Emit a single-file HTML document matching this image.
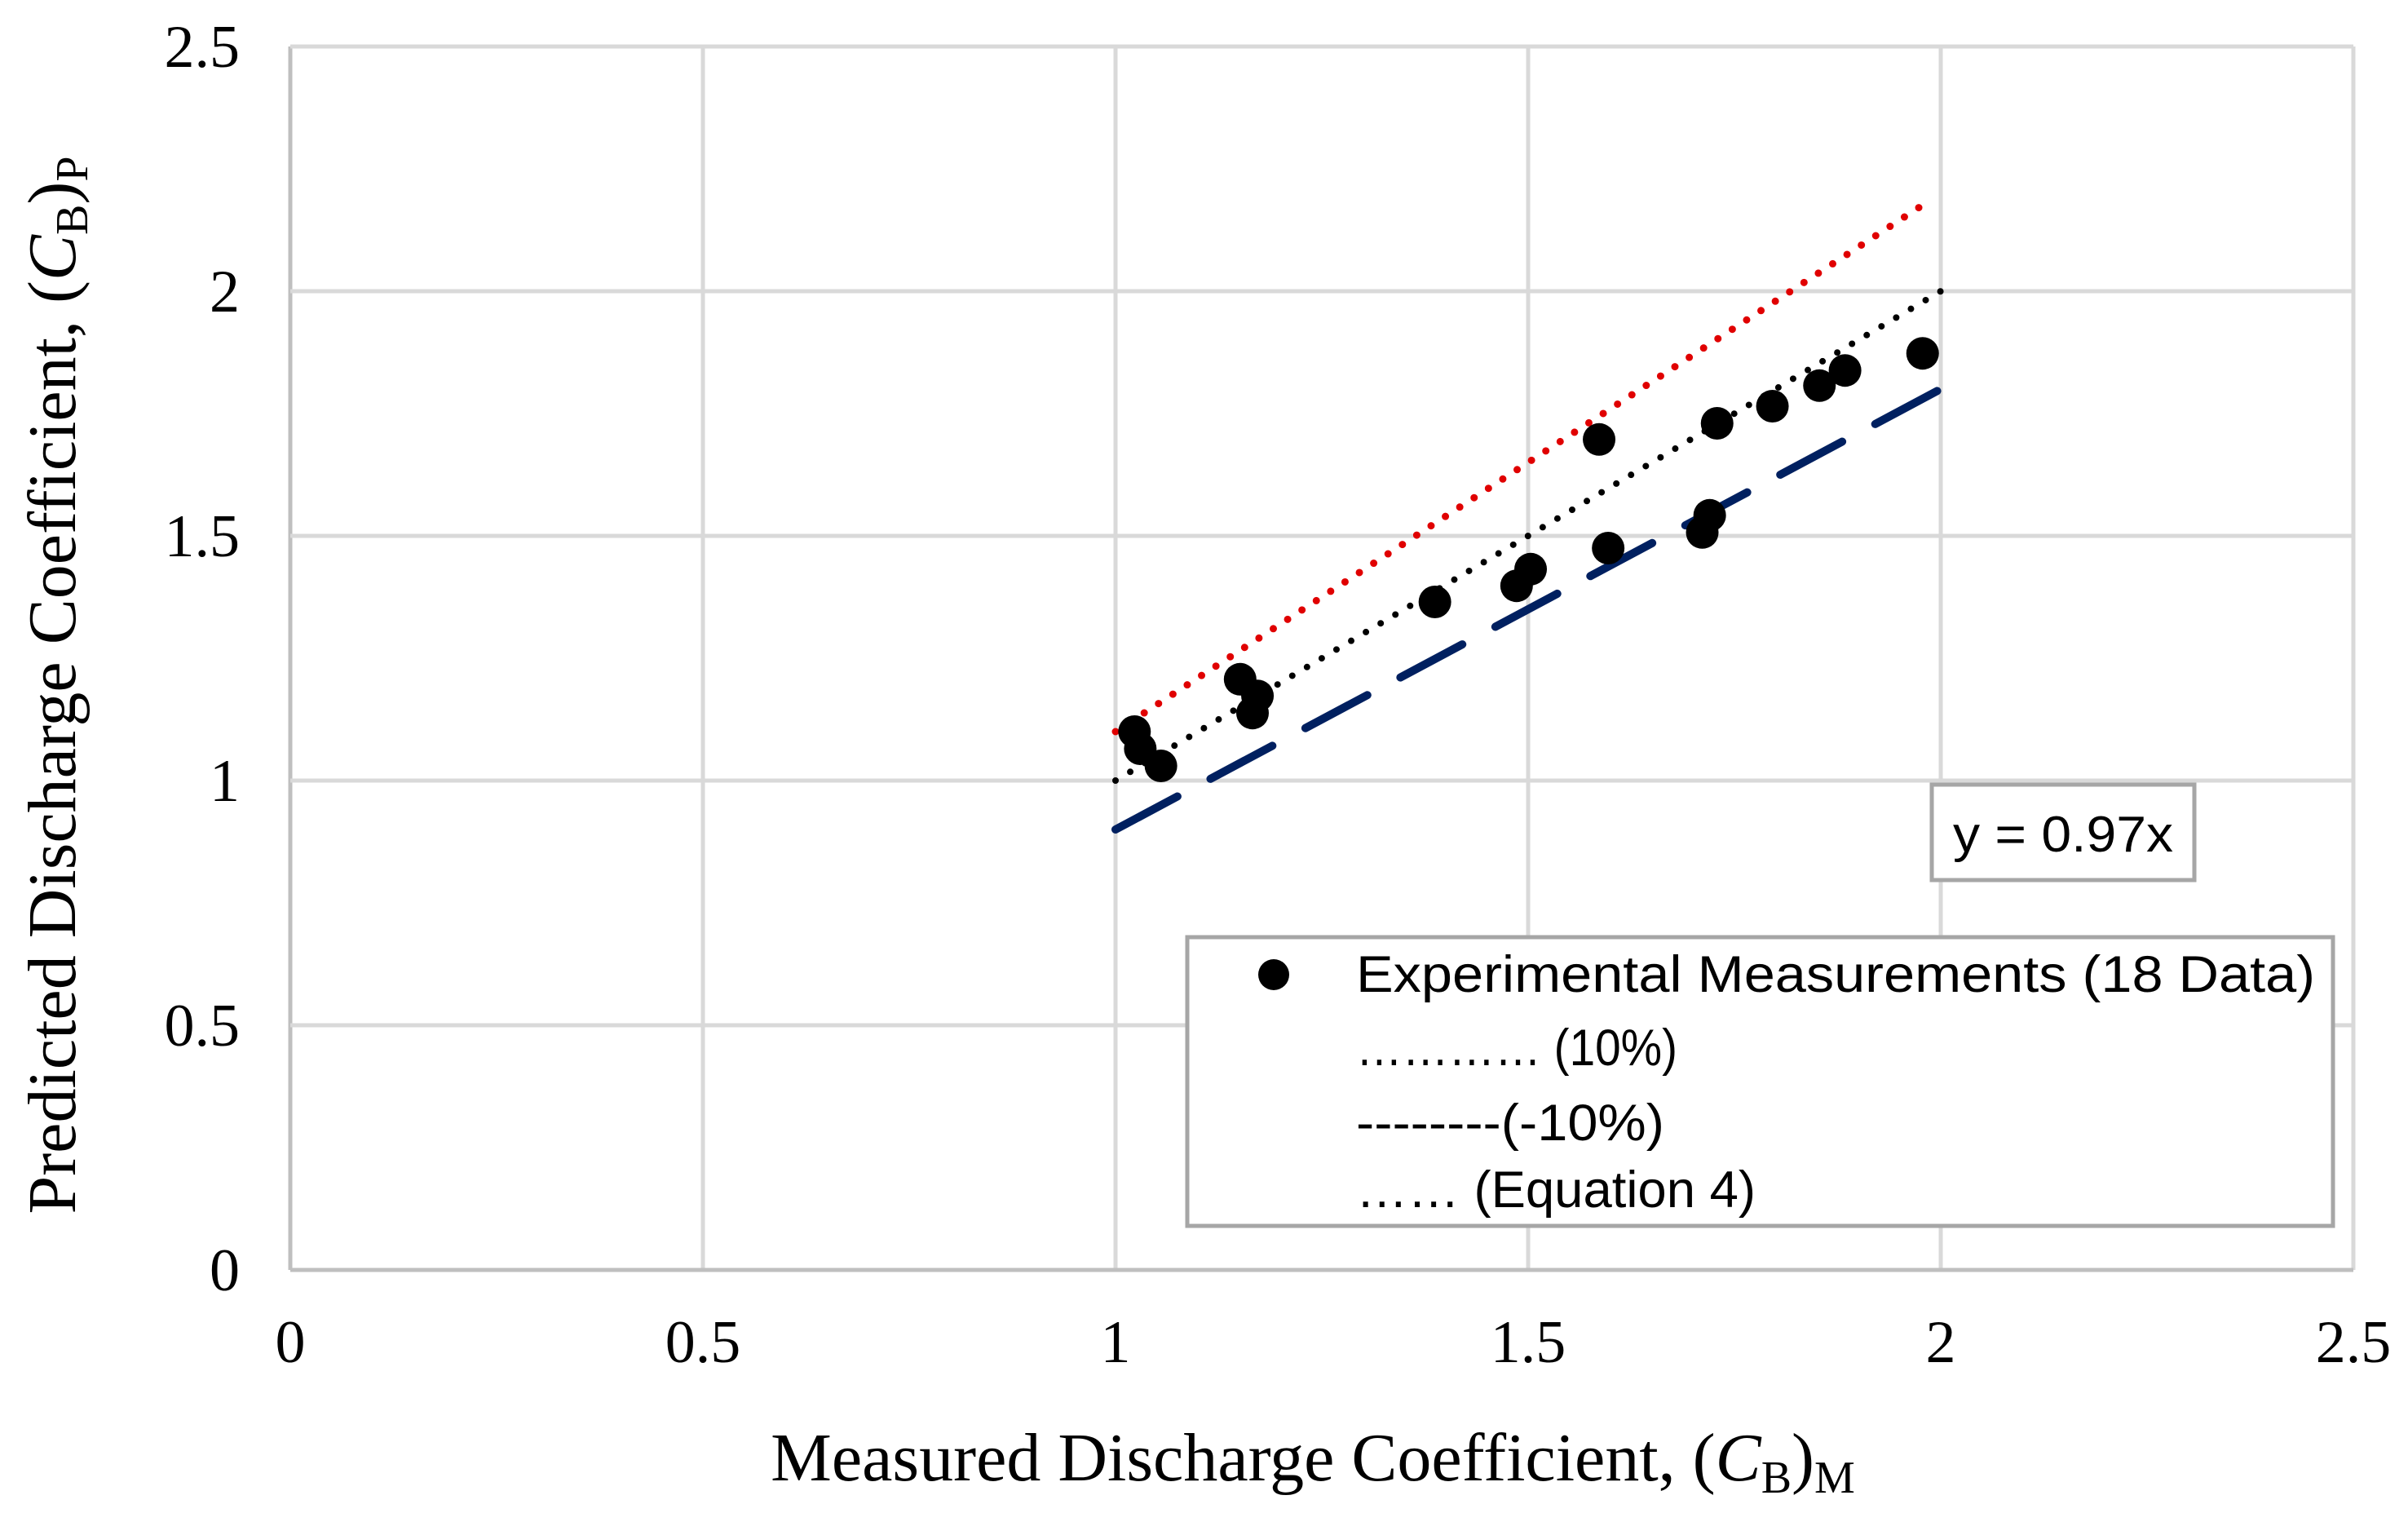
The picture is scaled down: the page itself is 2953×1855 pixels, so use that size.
<!DOCTYPE html>
<html><head><meta charset="utf-8"><style>html,body{margin:0;padding:0;background:#fff}svg{display:block}</style></head>
<body>
<svg id="chart" width="2953" height="1855" xmlns="http://www.w3.org/2000/svg">
<g id="grid"></g>
<g id="ticks" font-family="Liberation Serif, serif" font-size="74" fill="#000"></g>
<g id="lines"></g>
<g id="points"></g>
<text x="1610" y="1815" text-anchor="middle" font-family="Liberation Serif, serif" font-size="84">Measured Discharge Coefficient, (<tspan font-style="italic">C</tspan><tspan font-size="56" dy="15">B</tspan><tspan dy="-15">)</tspan><tspan font-size="56" dy="15">M</tspan></text>
<text transform="translate(92,840) rotate(-90)" text-anchor="middle" font-family="Liberation Serif, serif" font-size="84">Predicted Discharge Coefficient, (<tspan font-style="italic">C</tspan><tspan font-size="56" dy="15">B</tspan><tspan dy="-15">)</tspan><tspan font-size="56" dy="15">P</tspan></text>
<g>
<rect x="2369" y="962" width="322" height="117" fill="#fff" stroke="#a6a6a6" stroke-width="5"/>
<text x="2395" y="1044" font-family="Liberation Sans, sans-serif" font-size="62" textLength="270" lengthAdjust="spacingAndGlyphs">y = 0.97x</text>
</g>
<g>
<rect x="1456" y="1149" width="1405" height="354" fill="#fff" stroke="#a6a6a6" stroke-width="5"/>
<circle cx="1562" cy="1195" r="19" fill="#000"/>
<g font-family="Liberation Sans, sans-serif" font-size="63">
<text x="1663" y="1216" textLength="1176" lengthAdjust="spacingAndGlyphs">Experimental Measurements (18 Data)</text>
<text x="1663" y="1306" textLength="394" lengthAdjust="spacingAndGlyphs">………… (10%)</text>
<text x="1663" y="1398" textLength="378" lengthAdjust="spacingAndGlyphs">--------(-10%)</text>
<text x="1663" y="1480" textLength="490" lengthAdjust="spacingAndGlyphs">…… (Equation 4)</text>
</g>
</g>
</svg>
<script>
const xTicks = [0, 0.5, 1, 1.5, 2, 2.5];
const yTicks = [0, 0.5, 1, 1.5, 2, 2.5];
const xTickLabels = ["0", "0.5", "1", "1.5", "2", "2.5"];
const yTickLabels = ["0", "0.5", "1", "1.5", "2", "2.5"];
const measured = [1.023, 1.03, 1.055, 1.151, 1.172, 1.166, 1.387, 1.486, 1.503, 1.586, 1.597, 1.711, 1.720, 1.729, 1.796, 1.853, 1.884, 1.978];
const predicted = [1.10, 1.065, 1.03, 1.207, 1.173, 1.138, 1.365, 1.398, 1.432, 1.697, 1.475, 1.507, 1.542, 1.730, 1.765, 1.807, 1.838, 1.873];
const upperLine = {x: [1, 1.98], y: [1.1, 2.178]};
const equalLine = {x: [1, 2], y: [1, 2]};
const lowerLine = {x: [1, 2], y: [0.9, 1.8]};

const NS = "http://www.w3.org/2000/svg";
const X0 = 356, XS = 1012, Y0 = 1557, YS = 600;
const sx = v => X0 + v * XS;
const sy = v => Y0 - v * YS;
function mk(tag, attrs, parent) {
  const e = document.createElementNS(NS, tag);
  for (const k in attrs) e.setAttribute(k, attrs[k]);
  parent.appendChild(e);
  return e;
}
const grid = document.getElementById('grid');
xTicks.forEach((t, i) => {
  const l = mk('line', {x1: sx(t), x2: sx(t), y1: sy(2.5), y2: sy(0), stroke: i === 0 ? '#bfbfbf' : '#d9d9d9', 'stroke-width': 5}, grid);
  
  
});
yTicks.forEach((t, i) => {
  const l = mk('line', {x1: sx(0), x2: sx(2.5), y1: sy(t), y2: sy(t), stroke: i === 0 ? '#bfbfbf' : '#d9d9d9', 'stroke-width': 5}, grid);
  
  
});
const ticks = document.getElementById('ticks');
xTicks.forEach((t, i) => {
  const tx = mk('text', {x: sx(t), y: 1670, 'text-anchor': 'middle'}, ticks);
  tx.textContent = xTickLabels[i];
  
  
});
yTicks.forEach((t, i) => {
  const tx = mk('text', {x: 294, y: sy(t) + 25, 'text-anchor': 'end'}, ticks);
  tx.textContent = yTickLabels[i];
  
  
});
const lines = document.getElementById('lines');
const l1 = mk('line', {x1: sx(upperLine.x[0]), y1: sy(upperLine.y[0]), x2: sx(upperLine.x[1]), y2: sy(upperLine.y[1]), stroke: '#e00000', 'stroke-width': 9, 'stroke-linecap': 'round', 'stroke-dasharray': '0 21'}, lines);


const l2 = mk('line', {x1: sx(equalLine.x[0]), y1: sy(equalLine.y[0]), x2: sx(equalLine.x[1]), y2: sy(equalLine.y[1]), stroke: '#000', 'stroke-width': 8, 'stroke-linecap': 'round', 'stroke-dasharray': '0 21'}, lines);


const l3 = mk('line', {x1: sx(lowerLine.x[0]), y1: sy(lowerLine.y[0]), x2: sx(lowerLine.x[1]), y2: sy(lowerLine.y[1]), stroke: '#002060', 'stroke-width': 10, 'stroke-linecap': 'round', 'stroke-dasharray': '86 46'}, lines);


const pts = document.getElementById('points');
measured.forEach((m, i) => {
  const c = mk('circle', {cx: sx(m), cy: sy(predicted[i]), r: 20, fill: '#000'}, pts);
  
  
});
</script>
</body></html>
